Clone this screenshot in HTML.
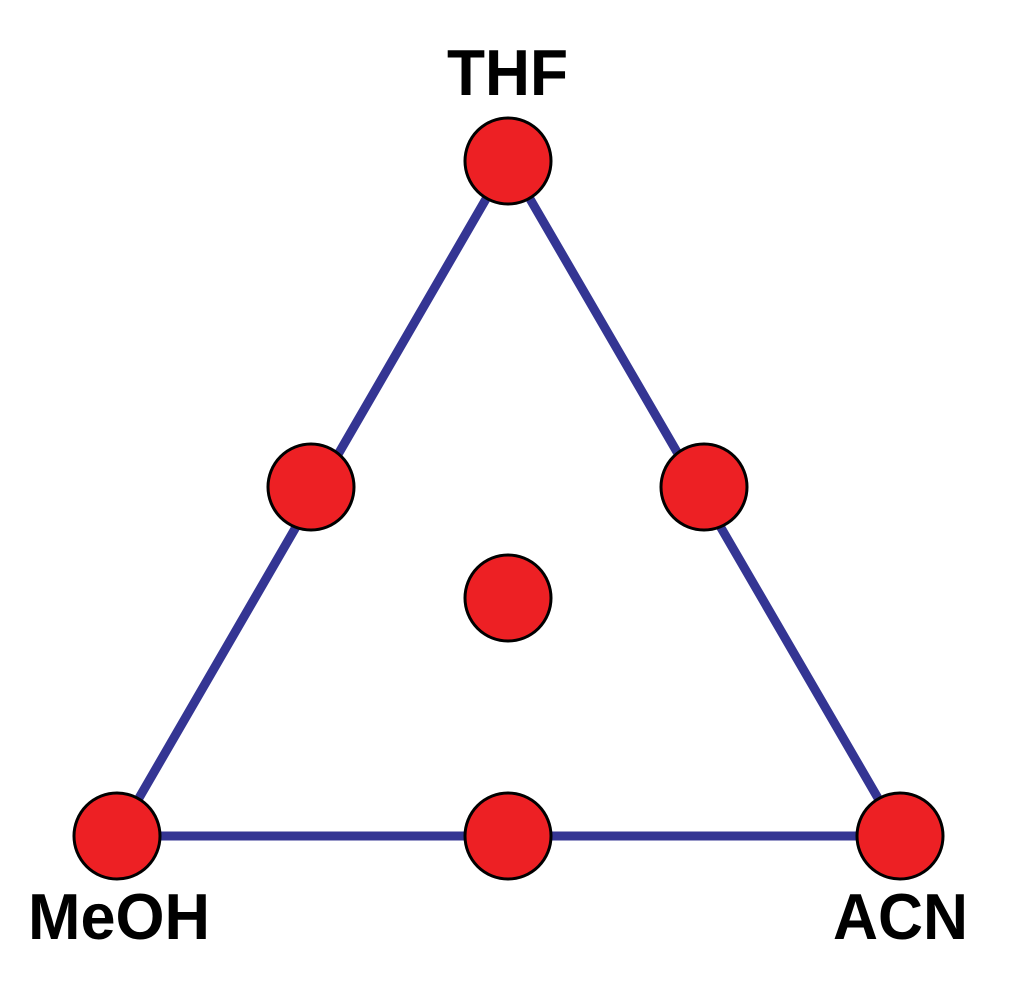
<!DOCTYPE html>
<html><head><meta charset="utf-8"><style>html,body{margin:0;padding:0;background:#fff}svg{display:block}</style></head>
<body>
<svg width="1011" height="1004" viewBox="0 0 1011 1004" xmlns="http://www.w3.org/2000/svg">
<rect width="1011" height="1004" fill="#fff"/>
<polygon points="508,161 117,836 900,836" fill="none" stroke="#343593" stroke-width="9" stroke-linejoin="round"/>
<g fill="#ED2024" stroke="#000" stroke-width="3">
<circle cx="508" cy="161" r="43"/>
<circle cx="311" cy="487" r="43"/>
<circle cx="704" cy="487" r="43"/>
<circle cx="508" cy="598" r="43"/>
<circle cx="117" cy="836" r="43"/>
<circle cx="508" cy="836" r="43"/>
<circle cx="900" cy="836" r="43"/>
</g>
<g font-family="'Liberation Sans', sans-serif" font-weight="bold" font-size="65" fill="#000">
<text x="447" y="95" textLength="121" lengthAdjust="spacingAndGlyphs">THF</text>
<text x="28" y="939" textLength="182" lengthAdjust="spacingAndGlyphs">MeOH</text>
<text x="833" y="939" textLength="135" lengthAdjust="spacingAndGlyphs">ACN</text>
</g>
</svg>
</body></html>
